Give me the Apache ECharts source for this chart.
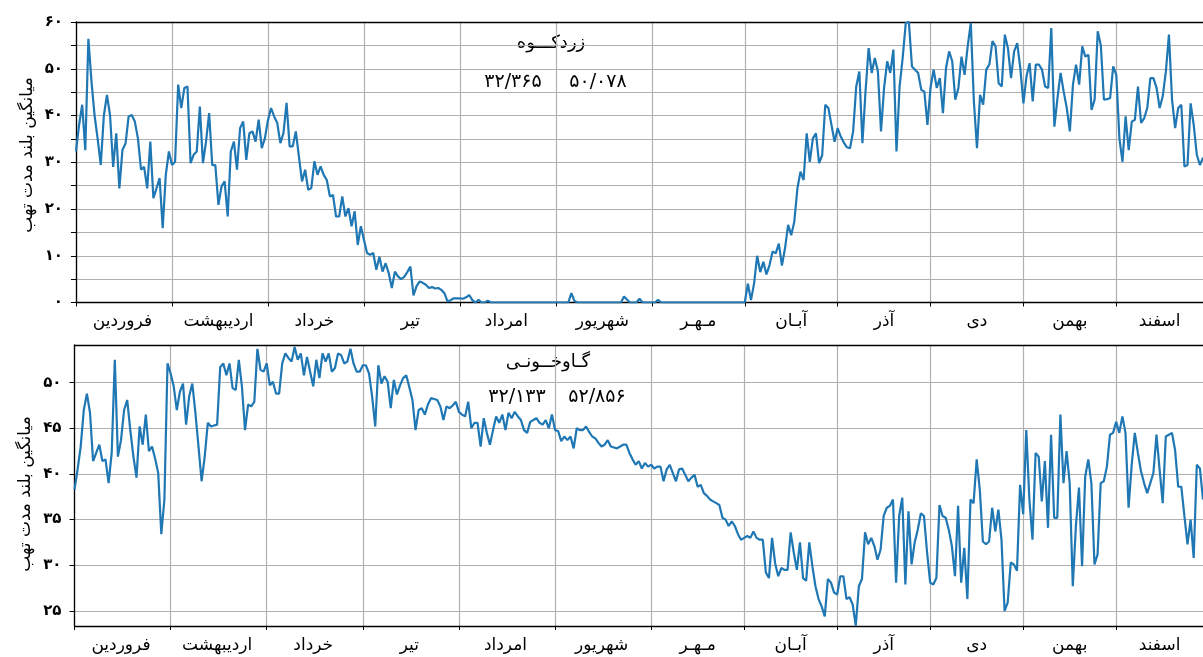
<!DOCTYPE html>
<html>
<head>
<meta charset="utf-8">
<script src="https://cdn.jsdelivr.net/npm/echarts@6/dist/echarts.min.js"></script>
<style>
  html, body { margin: 0; padding: 0; background: #fff; }
  #chart { width: 1203px; height: 657px; }
</style>
</head>
<body>
<div id="chart"></div>
<script>
// ماه‌ها و تعداد روزها
const monthNames = ['فروردین', 'اردیبهشت', 'خرداد', 'تیر', 'امرداد', 'شهریور', 'مـهـر', 'آبـان', 'آذر', 'دی', 'بهمن', 'اسفند']
const monthDays = [31, 31, 31, 31, 31, 31, 30, 30, 30, 30, 30, 29]

// زردکوه - مقادیر روزانه (هر سطر یک ماه)
const zardkuh = [
  32.3, 38, 42.3, 32.6, 56.4, 47.3, 40, 35, 29.4, 40, 44.4, 40, 29, 36.2, 24.4, 32.6, 34, 39.8, 40.1, 38.7, 35.1, 28.4, 29, 24.4, 34.4, 22.3, 24.4, 26.6, 15.9, 27.3, 32.3,
  29.4, 30.1, 46.6, 41.6, 45.9, 46.2, 29.8, 31.6, 32.3, 41.9, 29.8, 34.4, 40.5, 29.4, 29.4, 20.9, 24.8, 25.9, 18.4, 32.3, 34.4, 28.4, 37.3, 38.7, 30.5, 36.2, 36.6, 34.4, 39.1, 33, 35.1,
  39, 41.6, 39.8, 38.4, 34.1, 36.2, 42.7, 33.4, 33.4, 36.6, 31.2, 25.9, 28.4, 24.1, 24.5, 30.2, 27.3, 29.1, 27.3, 26.2, 22.7, 23, 18.4, 18.4, 22.7, 18.4, 20.2, 16.3, 19.5, 12.3, 16.3,
  13.4, 10.6, 10.2, 10.6, 7, 9.8, 6.6, 8.4, 6.3, 3.1, 6.6, 5.6, 5.0, 5.5, 6.5, 7.7, 1.5, 3.5, 4.5, 4.2, 3.8, 3.1, 3.3, 3.0, 3.1, 2.7, 2.0, 0.2, 0.5, 0.9, 0.9,
  0.9, 0.8, 1.1, 1.6, 0.5, 0, 0.6, 0, 0, 0.4, 0, 0, 0, 0, 0, 0, 0, 0, 0, 0, 0, 0, 0, 0, 0, 0, 0, 0, 0, 0, 0,
  0, 0, 0, 0, 0, 2.0, 0.3, 0, 0, 0, 0, 0, 0, 0, 0, 0, 0, 0, 0, 0, 0, 0, 1.3, 0.6, 0, 0, 0, 0.8, 0, 0, 0,
  0, 0, 0.6, 0, 0, 0, 0, 0, 0, 0, 0, 0, 0, 0, 0, 0, 0, 0, 0, 0, 0, 0, 0, 0, 0, 0, 0, 0, 0, 0,
  0, 4.0, 0.5, 4, 10.0, 6.5, 8.7, 6.0, 8, 10.9, 10.5, 12.6, 7.9, 11.6, 16.6, 14.4, 17.3, 24.4, 28, 26.2, 36.2, 30.1, 35.1, 36.2, 29.8, 31.5, 42.3, 41.6, 38, 34.4,
  37.3, 35.5, 34.2, 33.2, 33, 36.6, 46.2, 49.4, 34.1, 45.1, 54.4, 49.1, 52.3, 49.4, 36.6, 45.9, 51.6, 49.1, 54.1, 32.3, 46.2, 52.3, 59.8, 60, 50.5, 49.8, 49.1, 45.5, 45.1, 38,
  46, 49.8, 45.9, 48, 40.5, 50.1, 53.7, 51.6, 43.4, 45.9, 52.6, 48.7, 54.8, 59.8, 43, 33, 44.4, 42.3, 49.8, 50.9, 55.9, 54.8, 46.9, 46.2, 57.3, 54.4, 48, 53.7, 55.5, 50.1,
  42.6, 48.4, 51.2, 43, 50.9, 50.9, 49.8, 46.2, 45.9, 58.7, 37.6, 43.7, 49.1, 45.1, 41.6, 36.6, 46.6, 50.9, 46.6, 54.8, 52.6, 53, 41.2, 43.4, 58, 55, 43.4, 43.5, 43.7, 50.5,
  48.7, 35.1, 30.1, 39.8, 32.6, 38.7, 39.1, 46.2, 38.4, 39.4, 41.6, 48, 48, 45.9, 41.6, 44.1, 49.4, 57.3, 43.4, 37.3, 41.6, 42.3, 29.1, 29.4, 42.6, 38, 31.6, 29.4, 31
]

// گاوخونی - مقادیر روزانه
const gavkhuni = [
  38.3, 40.5, 43, 47, 48.8, 46.7, 41.4, 42.3, 43.2, 41.4, 41.6, 39, 42.3, 52.5, 41.9, 43.7, 47, 48.1, 44.8, 41.9, 39.6, 45.2, 43.2, 46.5, 42.5, 43, 41.7, 40.1, 33.4, 37.2, 52.1,
  51, 49.6, 47, 49, 49.9, 45.4, 48.5, 49.9, 46.7, 43, 39.2, 41.9, 45.6, 45.2, 45.3, 45.4, 51.7, 52.1, 50.8, 52.1, 49.4, 49.2, 52.5, 49.6, 44.8, 47.6, 47.4, 47.9, 53.7, 51.4, 51.2,
  52.1, 49.7, 50.1, 48.8, 48.8, 52.1, 53.2, 52.7, 52.3, 53.9, 52.5, 53.2, 50.8, 52.8, 51.2, 49.6, 52.5, 50.5, 53.2, 52.3, 53.2, 51.2, 51.6, 53.2, 53, 52.1, 52.3, 53.7, 52.1, 51.2, 51.2,
  51.9, 51.9, 51, 48.5, 45.2, 51.9, 49.9, 50.7, 50.1, 47.2, 50.3, 48.7, 49.7, 50.5, 50.8, 49.5, 48.1, 44.8, 47, 47.2, 46.5, 47.6, 48.3, 48.2, 48.1, 47.4, 45.9, 47.4, 47.2, 47.5, 47.9,
  46.8, 46.5, 46.3, 47.9, 45, 45.6, 45.6, 43, 46.1, 44.5, 43.2, 44.8, 46.3, 45.6, 46.5, 44.8, 46.7, 46.1, 46.8, 46.3, 45.9, 44.8, 44.5, 45.7, 45.9, 46.1, 45.6, 45.4, 45.9, 45, 46.5,
  44.8, 44.7, 43.6, 44.1, 43.7, 44.1, 42.8, 45, 44.8, 44.8, 45.2, 44.6, 44.1, 43.9, 43.4, 43, 43.2, 43.7, 43, 42.9, 42.8, 43, 43.2, 43.2, 42.3, 41.6, 41, 41.4, 40.6, 41.2, 40.8,
  41, 40.6, 40.8, 40.8, 39.2, 40.5, 41, 40.1, 39.2, 40.5, 40.6, 39.9, 39.2, 39.6, 39.9, 38.6, 38.8, 37.9, 37.6, 37.2, 37, 36.8, 36.6, 35.2, 35, 34.3, 34.8, 34.3, 33.4, 32.8,
  33, 33.2, 33, 33.7, 33, 32.8, 32.8, 29.2, 28.6, 33, 30.2, 28.8, 29.7, 29.5, 29.5, 33.6, 31.4, 29.5, 32.5, 28.6, 28.3, 32.5, 29.9, 27.7, 26.3, 25.5, 24.4, 28.5, 28.1, 27,
  26.8, 28.8, 28.8, 26.3, 26.5, 25.7, 23.4, 27.7, 28.5, 33.6, 32.3, 33, 32.1, 30.6, 31.7, 35.4, 36.3, 36.5, 37.2, 28.1, 35.4, 37.4, 27.9, 35.9, 30.1, 32.5, 33.9, 35.7, 35.4, 31.4,
  28.1, 27.9, 28.6, 36.6, 35.4, 35.2, 33.9, 32.1, 28.8, 36.5, 28.1, 31.9, 26.3, 37.2, 36.8, 41.6, 38.3, 32.6, 32.3, 32.6, 36.3, 33.7, 36.1, 32.8, 25, 25.9, 30.3, 30.1, 29.4, 38.8,
  35.6, 44.8, 37.2, 32.8, 42.3, 41.9, 37, 41.4, 34.1, 44.3, 35.2, 35.2, 46.5, 39, 42.5, 39, 27.7, 34.3, 38.5, 29.9, 39.7, 41.6, 39, 30.1, 31.2, 39, 39.2, 40.8, 44.3, 44.5,
  45.7, 44.5, 46.3, 44.5, 36.3, 41, 44.5, 42.3, 40.3, 39, 37.9, 39, 40.1, 44.3, 40.5, 36.8, 44.1, 44.3, 44.5, 42.6, 38.6, 38.6, 35.4, 32.3, 35, 30.8, 41, 40.6, 37.2
]

// متن‌ها
const stationNames = ['زردکـــوه', 'گـاوخــونـی']
const stationStats = [['۳۲/۳۶۵', '۵۰/۰۷۸'], ['۳۲/۱۳۳', '۵۲/۸۵۶']]
const yName = 'میانگین بلند مدت تهب'
const topTicks = [0, 10, 20, 30, 40, 50, 60]
const bottomTicks = [25, 30, 35, 40, 45, 50]

const FONT = 'DejaVu Sans'
const toFa = n => String(n).replace(/[0-9]/g, d => '۰۱۲۳۴۵۶۷۸۹'[d])

// روزهای سال و مرز ماه‌ها
const days = []
const dayMonth = []
const monthStarts = []
const monthMids = []
monthDays.forEach((n, m) => {
  monthStarts.push(days.length)
  monthMids.push(days.length + Math.floor(n / 2))
  for (let k = 0; k < n; k++) {
    days.push((m + 1) + '/' + (k + 1))
    dayMonth.push(m)
  }
})

const grids = [
  { left: 76, top: 22, width: 1130, height: 280.5 },
  { left: 74.5, top: 345, width: 1130, height: 281 }
]

const gridLine = { color: '#b0b0b0', width: 1.2 }
const blackLine = { color: '#000', width: 1.3 }

function monthAxis(gi) {
  return {
    type: 'category',
    gridIndex: gi,
    data: days,
    boundaryGap: false,
    axisLine: { lineStyle: blackLine },
    axisTick: { interval: idx => monthStarts.includes(idx), length: 4, lineStyle: { color: '#000' } },
    splitLine: { show: true, interval: idx => monthStarts.includes(idx), lineStyle: gridLine },
    axisLabel: {
      interval: idx => monthMids.includes(idx),
      formatter: (v, idx) => monthNames[dayMonth[idx]],
      color: '#000', fontSize: 17, fontFamily: FONT, margin: 11
    }
  }
}

function borderAxis(gi) {
  return {
    type: 'value', gridIndex: gi, position: 'top', min: 0, max: 1,
    axisLine: { show: true, onZero: false, lineStyle: blackLine },
    axisTick: { show: false }, axisLabel: { show: false }, splitLine: { show: false }
  }
}

const yLabel = { color: '#000', fontSize: 15, fontWeight: 'bold', fontFamily: FONT, margin: 13 }

const option = {
  animation: false,
  backgroundColor: '#fff',
  grid: grids,
  xAxis: [monthAxis(0), monthAxis(1), borderAxis(0), borderAxis(1)],
  yAxis: [
    {
      type: 'value', gridIndex: 0, min: 0, max: 60, interval: 5,
      axisLine: { show: true, lineStyle: blackLine },
      axisTick: { show: true, length: 5, lineStyle: { color: '#000' } },
      axisLabel: Object.assign({}, yLabel, { formatter: v => topTicks.includes(v) ? toFa(v) : '' }),
      splitLine: { lineStyle: gridLine }
    },
    {
      type: 'value', gridIndex: 1, min: 23.35, max: 54.12,
      axisLine: { show: true, lineStyle: blackLine },
      axisTick: { show: true, length: 5, customValues: bottomTicks, lineStyle: { color: '#000' } },
      axisLabel: Object.assign({}, yLabel, { customValues: bottomTicks, formatter: v => toFa(v) }),
      splitLine: { lineStyle: gridLine }
    }
  ],
  series: [
    {
      type: 'line', xAxisIndex: 0, yAxisIndex: 0, data: zardkuh,
      showSymbol: false, lineStyle: { color: '#1f77b4', width: 2.2 }, itemStyle: { color: '#1f77b4' }
    },
    {
      type: 'line', xAxisIndex: 1, yAxisIndex: 1, data: gavkhuni,
      showSymbol: false, lineStyle: { color: '#1f77b4', width: 2.2 }, itemStyle: { color: '#1f77b4' }
    }
  ],
  graphic: [
    { type: 'text', x: 551, y: 43, style: { text: stationNames[0], font: '18px ' + FONT, fill: '#000', align: 'center', verticalAlign: 'middle' } },
    { type: 'text', x: 513, y: 82, style: { text: stationStats[0][0], font: '19px ' + FONT, fill: '#000', align: 'center', verticalAlign: 'middle' } },
    { type: 'text', x: 598, y: 82, style: { text: stationStats[0][1], font: '19px ' + FONT, fill: '#000', align: 'center', verticalAlign: 'middle' } },
    { type: 'text', x: 548, y: 362, style: { text: stationNames[1], font: '18px ' + FONT, fill: '#000', align: 'center', verticalAlign: 'middle' } },
    { type: 'text', x: 517, y: 397, style: { text: stationStats[1][0], font: '19px ' + FONT, fill: '#000', align: 'center', verticalAlign: 'middle' } },
    { type: 'text', x: 597, y: 397, style: { text: stationStats[1][1], font: '19px ' + FONT, fill: '#000', align: 'center', verticalAlign: 'middle' } },
    // عنوان محور عمودی
    { type: 'text', x: 28, y: 155, rotation: Math.PI / 2, style: { text: yName, font: '17px ' + FONT, fill: '#000', align: 'center', verticalAlign: 'middle' } },
    { type: 'text', x: 26, y: 494, rotation: Math.PI / 2, style: { text: yName, font: '17px ' + FONT, fill: '#000', align: 'center', verticalAlign: 'middle' } }
  ]
}

const chart = echarts.init(document.getElementById('chart'))
chart.setOption(option)
</script>
</body>
</html>
